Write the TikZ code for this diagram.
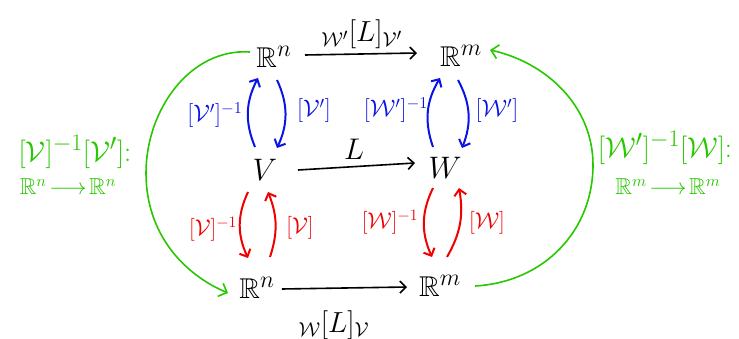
\documentclass[tikz,border=0pt]{standalone}
\usepackage{graphicx}
\usepackage{amsmath,amssymb}
\usetikzlibrary{arrows.meta}
\definecolor{pblue}{RGB}{10,20,230}
\definecolor{pred}{RGB}{240,0,0}
\definecolor{pgreen}{RGB}{40,200,0}
\begin{document}
\begin{tikzpicture}[x=1pt,y=-1pt,
  main/.style={inner sep=0pt, font=\fontsize{24.88}{30}\selectfont},
  lab/.style={inner sep=0pt, font=\fontsize{20.74}{24}\selectfont},
  glab/.style={inner sep=0pt, text=pgreen, font=\fontsize{24.88}{30}\selectfont},
  gsmall/.style={inner sep=0pt, text=pgreen, font=\fontsize{14.4}{18}\selectfont},
  blk/.style={line width=1.6pt, -{Straight Barb[length=6pt,width=12pt]}},
  bluearr/.style={draw=pblue, line width=2pt, -{Straight Barb[length=6pt,width=12pt]}},
  redarr/.style={draw=pred, line width=2pt, -{Straight Barb[length=6pt,width=12pt]}},
  greenarr/.style={draw=pgreen, line width=1.6pt, -{Straight Barb[length=7pt,width=14pt]}}
]
\useasboundingbox (0,0) rectangle (739,339);
% main nodes
\node[main] (Rn1) at (274,57) {\scalebox{1.15}{$\mathbb{R}^n$}};
\node[main] (Rm1) at (461,56) {\scalebox{1.15}{$\mathbb{R}^m$}};
\node[main] (V) at (265,170) {\scalebox{1.25}{$V$}};
\node[main] (W) at (445,168) {\scalebox{1.25}{$W$}};
\node[main] (Rn0) at (257,288) {\scalebox{1.15}{$\mathbb{R}^n$}};
\node[main] (Rm0) at (440,286) {\scalebox{1.15}{$\mathbb{R}^m$}};
% black arrows
\draw[blk] ([shift={(31,-2)}]Rn1.center) -- ([shift={(-44,-3)}]Rm1.center);
\draw[blk] ([shift={(33,0)}]V.center) -- ([shift={(-30,-5)}]W.center);
\draw[blk] ([shift={(25,1)}]Rn0.center) -- ([shift={(-33,1)}]Rm0.center);
\node[lab] (tl) at (362,34) {\scalebox{1.4}{$_{\mathcal{W}'}[L]_{\mathcal{V}'}$}};
\node[main] (Ll) at (354,149) {\scalebox{1.2}{$L$}};
\node[lab] (bl) at (334,325) {\scalebox{1.4}{$_{\mathcal{W}}[L]_{\mathcal{V}}$}};
% blue
\draw[bluearr] ([shift={(-10,-23)}]V.center) to[bend left=25] ([shift={(-16,21)}]Rn1.center);
\draw[bluearr] ([shift={(3,23)}]Rn1.center) to[bend left=25] ([shift={(12,-22)}]V.center);
\draw[bluearr] ([shift={(-12,-21)}]W.center) to[bend left=25] ([shift={(-21,22)}]Rm1.center);
\draw[bluearr] ([shift={(-3,24)}]Rm1.center) to[bend left=25] ([shift={(17,-20)}]W.center);
\node[lab, text=pblue] (bv1) at (215,115) {\scalebox{1.15}{$[\mathcal{V}']^{-1}$}};
\node[lab, text=pblue] (bv2) at (314,111) {\scalebox{1.15}{$[\mathcal{V}']$}};
\node[lab, text=pblue] (bw1) at (396,110) {\scalebox{1.15}{$[\mathcal{W}']^{-1}$}};
\node[lab, text=pblue] (bw2) at (497,111) {\scalebox{1.15}{$[\mathcal{W}']$}};
% red
\draw[redarr] ([shift={(-17,22)}]V.center) to[bend right=25] ([shift={(-9,-30)}]Rn0.center);
\draw[redarr] ([shift={(13,-31)}]Rn0.center) to[bend right=20] ([shift={(3,22)}]V.center);
\draw[redarr] ([shift={(-12,20)}]W.center) to[bend right=25] ([shift={(-8,-29)}]Rm0.center);
\draw[redarr] ([shift={(7,-29)}]Rm0.center) to[bend right=20] ([shift={(14,20)}]W.center);
\node[lab, text=pred] (rv1) at (213,229) {\scalebox{1.1}{$[\mathcal{V}]^{-1}$}};
\node[lab, text=pred] (rv2) at (300,228) {\scalebox{1.1}{$[\mathcal{V}]$}};
\node[lab, text=pred] (rw1) at (390,222) {\scalebox{1.1}{$[\mathcal{W}]^{-1}$}};
\node[lab, text=pred] (rw2) at (487,223) {\scalebox{1.1}{$[\mathcal{W}]$}};
% green
\draw[greenarr] ([shift={(-24,-5)}]Rn1.center) .. controls (190,48) and (146,110) .. (146,173)
   .. controls (146,235) and (185,275) .. ([shift={(-29,5)}]Rn0.center);
\draw[greenarr] ([shift={(35,0)}]Rm0.center) .. controls (545,282) and (593,230) .. (593,165)
   .. controls (593,105) and (545,62) .. ([shift={(29,-6)}]Rm1.center);
\node[glab] (gl1) at (75,152) {\scalebox{1.15}{$[\mathcal{V}]^{-1}[\mathcal{V}']$:}};
\node[gsmall] (gl2) at (68,187) {\scalebox{1.6}{$\mathbb{R}^n\!\longrightarrow\!\mathbb{R}^n$}};
\node[glab] (gr1) at (665,148) {\scalebox{1.15}{$[\mathcal{W}']^{-1}[\mathcal{W}]$:}};
\node[gsmall] (gr2) at (668,187) {\scalebox{1.6}{$\mathbb{R}^m\!\longrightarrow\!\mathbb{R}^m$}};
\end{tikzpicture}
\end{document}
